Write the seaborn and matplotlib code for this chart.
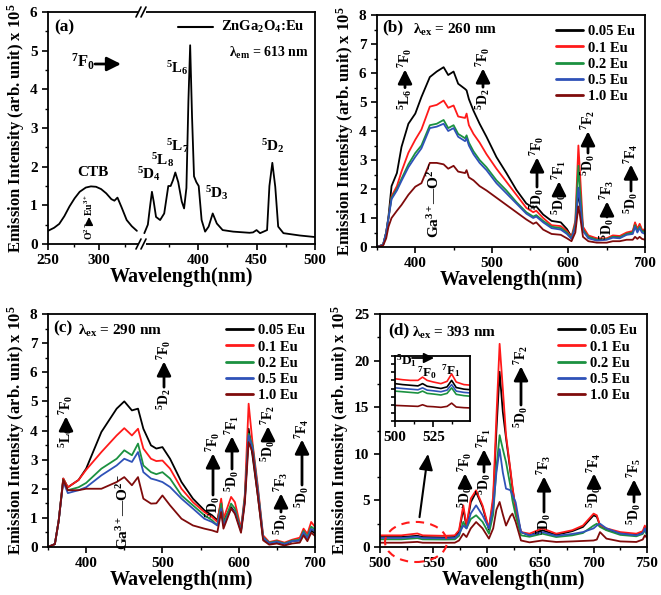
import numpy as np
import pandas as pd
import matplotlib
matplotlib.use("Agg")
import matplotlib.pyplot as plt
import seaborn as sns
from matplotlib.lines import Line2D
from matplotlib.patches import Ellipse
from matplotlib.ticker import MultipleLocator, NullFormatter

# ---------------- data ----------------
series = ["0.05 Eu", "0.1 Eu", "0.2 Eu", "0.5 Eu", "1.0 Eu"]
colors = ["#000000", "#ff1a1a", "#1b9140", "#2f52b8", "#7f0b0b"]

# (a) excitation spectrum (broken axis)
a_left_wl = [250, 256, 261, 266, 271, 276, 281, 287, 292, 297, 302, 307, 312, 315, 318, 322, 327, 332, 337]
a_left_I = [0.34, 0.42, 0.52, 0.72, 0.97, 1.18, 1.35, 1.46, 1.49, 1.48, 1.42, 1.31, 1.16, 1.12, 1.2, 0.95, 0.62, 0.46, 0.34]
a_right_wl = [354, 357, 359, 360.5, 362, 364, 367.5, 371, 374.5, 376.5, 378.5, 380.5, 383, 386, 388, 390, 391.7, 393.2, 394.8, 396.5, 398.5, 400.5,
              403, 406, 409, 412.5, 416, 421, 430, 444, 447, 450, 453, 459, 461, 463.5, 466, 468.5, 473, 487, 500]
a_right_I = [0.28, 0.5, 1.0, 1.35, 1.1, 0.7, 0.62, 0.79, 1.5, 1.5, 1.65, 1.85, 1.6, 1.1, 0.92, 1.45, 3.7, 5.14, 3.3, 1.75, 1.6, 1.5,
             0.62, 0.32, 0.45, 0.79, 0.53, 0.36, 0.32, 0.29, 0.3, 0.36, 0.28, 0.36, 1.5, 2.1, 1.48, 0.45, 0.28, 0.22, 0.18]

# (b) emission, lambda_ex = 260 nm
b_wl = [350, 358, 362, 365, 369, 376, 382, 391, 400, 408, 419, 428, 437, 443, 450, 456, 465, 467, 470, 476, 484, 493, 506, 519, 532,
        545, 554, 558, 567, 578, 590, 598, 604, 609, 613, 615, 619, 626, 637, 650, 658, 667, 676, 684, 687, 690, 693, 696, 700]
b_005 = [0, 0.08, 0.5, 1.05, 2.1, 2.55, 3.45, 4.25, 4.6, 5.17, 5.86, 6.05, 6.2, 5.93, 6.05, 5.63, 5.45, 5.4, 5.1, 4.7, 4.25, 3.8, 3.1, 2.55, 1.97,
         1.5, 1.35, 1.4, 1.12, 0.9, 0.85, 0.62, 0.35, 0.7, 1.9, 1.5, 0.66, 0.35, 0.28, 0.28, 0.35, 0.35, 0.45, 0.5, 0.8, 0.6, 0.75, 0.55, 0.55]
b_01 = [0, 0.08, 0.5, 1.0, 1.75, 2.1, 2.6, 3.25, 3.7, 4.05, 4.84, 4.9, 5.05, 4.8, 4.88, 4.5, 4.45, 4.6, 4.2, 3.9, 3.6, 3.2, 2.7, 2.25, 1.8,
        1.35, 1.2, 1.25, 1.0, 0.75, 0.72, 0.55, 0.35, 0.9, 3.5, 2.6, 0.7, 0.4, 0.3, 0.3, 0.4, 0.38, 0.5, 0.55, 0.85, 0.62, 0.8, 0.6, 0.6]
b_02 = [0, 0.08, 0.5, 1.0, 1.7, 2.0, 2.35, 2.85, 3.24, 3.5, 4.2, 4.25, 4.38, 4.1, 4.2, 3.9, 3.75, 3.85, 3.6, 3.3, 3.0, 2.75, 2.3, 1.95, 1.55,
        1.2, 1.05, 1.1, 0.9, 0.7, 0.65, 0.5, 0.3, 0.8, 2.8, 2.0, 0.6, 0.35, 0.25, 0.27, 0.35, 0.33, 0.45, 0.5, 0.75, 0.55, 0.7, 0.55, 0.5]
b_05 = [0, 0.08, 0.5, 1.0, 1.65, 1.95, 2.28, 2.75, 3.11, 3.4, 4.1, 4.15, 4.25, 4.0, 4.1, 3.8, 3.65, 3.75, 3.5, 3.2, 2.9, 2.65, 2.2, 1.85, 1.5,
        1.15, 1.0, 1.05, 0.85, 0.65, 0.6, 0.45, 0.28, 0.7, 2.05, 1.6, 0.55, 0.3, 0.22, 0.25, 0.32, 0.3, 0.42, 0.45, 0.7, 0.5, 0.65, 0.5, 0.45]
b_10 = [0, 0.05, 0.3, 0.7, 1.0, 1.25, 1.45, 1.8, 2.08, 2.2, 2.9, 2.9, 2.85, 2.7, 2.8, 2.6, 2.55, 2.65, 2.4, 2.3, 2.1, 1.95, 1.7, 1.45, 1.2,
        0.95, 0.8, 0.85, 0.6, 0.45, 0.42, 0.3, 0.2, 0.5, 1.4, 1.1, 0.35, 0.2, 0.15, 0.15, 0.2, 0.2, 0.25, 0.25, 0.35, 0.28, 0.35, 0.28, 0.25]

# (c) emission, lambda_ex = 290 nm
c_wl = [350, 359, 364, 370, 376, 390, 400, 420, 440, 450, 460, 468, 475, 485, 492, 500, 510, 525, 540, 555,
        565, 572, 577, 580, 590, 595, 603, 608, 613, 618, 625, 632, 640, 650, 660, 670, 680, 685, 690, 695, 700]
c_005 = [0, 0.1, 0.9, 2.35, 2.05, 2.3, 2.69, 3.95, 4.75, 5.0, 4.69, 4.75, 4.06, 3.49, 3.38, 3.43, 3.03, 2.23, 1.66, 1.26,
         1.09, 0.92, 1.55, 0.9, 1.37, 1.2, 0.57, 1.6, 4.06, 3.15, 1.77, 0.29, 0.11, 0.17, 0.08, 0.2, 0.23, 0.5, 0.29, 0.57, 0.46]
c_01 = [0, 0.1, 0.9, 2.35, 2.05, 2.3, 2.65, 3.26, 3.83, 4.08, 3.83, 4.06, 3.38, 3.03, 2.95, 2.97, 2.69, 2.0, 1.54, 1.2,
        1.03, 0.86, 1.66, 0.97, 1.72, 1.54, 0.63, 1.8, 4.92, 3.6, 2.1, 0.4, 0.17, 0.23, 0.15, 0.25, 0.32, 0.63, 0.45, 0.86, 0.69]
c_02 = [0, 0.1, 0.9, 2.3, 1.95, 2.05, 2.2, 2.69, 3.03, 3.32, 3.15, 3.55, 2.8, 2.57, 2.5, 2.57, 2.35, 1.77, 1.43, 1.09,
        0.92, 0.74, 1.49, 0.8, 1.49, 1.32, 0.57, 1.7, 3.89, 3.49, 2.0, 0.34, 0.15, 0.2, 0.12, 0.22, 0.25, 0.55, 0.35, 0.7, 0.6]
c_05 = [0, 0.1, 0.9, 2.25, 1.85, 1.95, 2.05, 2.46, 2.8, 3.03, 2.92, 3.26, 2.57, 2.35, 2.3, 2.23, 2.06, 1.66, 1.32, 0.97,
        0.86, 0.74, 1.32, 0.74, 1.32, 1.2, 0.54, 1.6, 3.83, 3.4, 1.95, 0.32, 0.13, 0.18, 0.1, 0.2, 0.22, 0.5, 0.3, 0.62, 0.55]
c_10 = [0, 0.1, 0.9, 2.3, 1.95, 1.95, 2.0, 2.0, 2.23, 2.4, 2.12, 2.4, 1.66, 1.49, 1.5, 1.77, 1.43, 0.97, 0.74, 0.63,
        0.57, 0.51, 1.2, 0.63, 1.32, 1.14, 0.49, 1.5, 3.6, 3.26, 1.77, 0.23, 0.08, 0.12, 0.05, 0.12, 0.15, 0.4, 0.2, 0.49, 0.38]

# (d) emission, lambda_ex = 393 nm
d_wl = [500, 520, 535, 540, 560, 570, 574, 578, 581, 585, 590, 596, 602, 606, 609, 612, 615, 618, 622, 624,
        627, 632, 640, 652, 665, 680, 690, 700, 703, 706, 712, 725, 740, 746, 748, 750]
d_005 = [1.07, 1.07, 1.2, 1.07, 1.03, 1.07, 1.6, 4.1, 2.15, 4.8, 5.9, 4.3, 1.85, 5.0, 12.5, 18.8, 14.5, 11.7, 8.2, 6.3,
         4.1, 1.6, 1.25, 1.8, 1.3, 1.7, 2.15, 3.4, 3.25, 2.3, 1.85, 1.45, 1.3, 1.55, 2.15, 1.45]
d_01 = [1.25, 1.25, 1.45, 1.25, 1.2, 1.25, 1.8, 4.47, 2.3, 5.2, 6.08, 4.47, 2.0, 5.5, 14.0, 21.8, 17.0, 12.0, 8.4, 6.5,
        4.1, 1.6, 1.43, 2.0, 1.43, 1.8, 2.3, 3.58, 3.4, 2.3, 2.0, 1.6, 1.43, 1.7, 2.3, 1.6]
d_02 = [0.82, 0.82, 0.95, 0.82, 0.8, 0.82, 1.2, 2.7, 2.0, 3.0, 3.4, 2.7, 1.43, 3.5, 8.5, 12.0, 10.5, 9.1, 6.6, 5.0,
        3.4, 1.25, 1.1, 1.43, 1.07, 1.25, 1.5, 2.3, 2.5, 2.15, 1.8, 1.3, 1.15, 1.4, 1.8, 1.25]
d_05 = [0.97, 0.97, 1.1, 0.97, 0.93, 0.97, 1.4, 2.3, 2.0, 3.6, 4.47, 3.4, 2.0, 4.2, 8.0, 10.5, 8.0, 6.26, 6.1, 5.6,
        4.8, 1.6, 1.25, 1.6, 1.2, 1.4, 1.6, 2.0, 2.3, 2.5, 2.0, 1.45, 1.25, 1.5, 2.0, 1.35]
d_10 = [0.46, 0.46, 0.55, 0.46, 0.45, 0.46, 0.7, 1.43, 1.07, 2.0, 2.68, 2.0, 0.9, 2.0, 4.0, 4.83, 3.5, 2.3, 3.3, 3.58,
        2.7, 0.7, 0.5, 0.7, 0.54, 0.6, 0.65, 0.7, 0.8, 1.6, 0.9, 0.6, 0.54, 0.8, 1.25, 0.97]

# (d) inset, 500-550 nm
ins_wl = [500, 505, 510, 515, 518, 521, 525, 530, 534, 537, 540, 545, 550]
ins_005 = [1.15, 1.12, 1.1, 1.08, 1.15, 1.07, 1.04, 1.0, 1.05, 1.25, 1.03, 0.98, 0.96]
ins_01 = [1.3, 1.27, 1.25, 1.25, 1.35, 1.25, 1.2, 1.15, 1.22, 1.45, 1.2, 1.12, 1.1]
ins_02 = [0.92, 0.9, 0.88, 0.86, 0.92, 0.85, 0.83, 0.8, 0.85, 1.02, 0.82, 0.78, 0.76]
ins_05 = [1.02, 1.0, 0.98, 0.96, 1.02, 0.95, 0.93, 0.9, 0.95, 1.12, 0.92, 0.88, 0.86]
ins_10 = [0.48, 0.47, 0.46, 0.45, 0.5, 0.45, 0.44, 0.42, 0.45, 0.55, 0.43, 0.41, 0.4]


def long_df(wl, cols):
    frames = [pd.DataFrame({"wl": wl, "I": v, "s": name}) for name, v in zip(series, cols)]
    return pd.concat(frames, ignore_index=True)


df_b = long_df(b_wl, [b_005, b_01, b_02, b_05, b_10])
df_c = long_df(c_wl, [c_005, c_01, c_02, c_05, c_10])
df_d = long_df(d_wl, [d_005, d_01, d_02, d_05, d_10])
df_i = long_df(ins_wl, [ins_005, ins_01, ins_02, ins_05, ins_10])

# ---------------- style ----------------
sns.set_theme(style="ticks")
plt.rcParams["font.family"] = ["Liberation Serif", "DejaVu Serif"]
plt.rcParams.update({
    "font.weight": "bold",
    "axes.labelweight": "bold",
    "mathtext.fontset": "custom",
    "mathtext.rm": "Liberation Serif:bold",
    "mathtext.it": "Liberation Serif:bold:italic",
    "mathtext.bf": "Liberation Serif:bold",
    "axes.edgecolor": "black",
    "axes.linewidth": 1.3,
    "text.color": "black",
    "axes.labelcolor": "black",
    "xtick.color": "black",
    "ytick.color": "black",
})

W, H = 661, 595
fig = plt.figure(figsize=(W / 100, H / 100), dpi=100)
fig.patch.set_facecolor("white")


def add_ax(l, t, r, b):
    return fig.add_axes([l / W, 1 - b / H, (r - l) / W, (b - t) / H])


def style_ax(ax):
    ax.tick_params(which="major", direction="out", length=4, width=1.2, labelsize=11)
    ax.tick_params(which="minor", direction="out", length=2.5, width=1.0)
    for lab in ax.get_xticklabels() + ax.get_yticklabels():
        lab.set_fontweight("bold")
    for sp in ax.spines.values():
        sp.set_linewidth(1.3)
        sp.set_color("black")


pal = dict(zip(series, colors))
YLAB = r"Emission Intensity (arb. unit) x 10$^5$"
XLAB = "Wavelength(nm)"

# ---- panel (a) ----
axa1 = add_ax(48, 12, 142, 244)
axa2 = add_ax(142, 12, 315, 244)
sns.lineplot(x=a_left_wl, y=a_left_I, ax=axa1, color="black", lw=1.3)
sns.lineplot(x=a_right_wl, y=a_right_I, ax=axa2, color="black", lw=1.3)
axa1.set_xlim(250, 342)
axa2.set_xlim(352, 500)
for ax in (axa1, axa2):
    ax.set_ylim(0, 6)
    ax.set_facecolor("white")
axa1.xaxis.set_major_locator(MultipleLocator(50))
axa1.xaxis.set_minor_locator(MultipleLocator(25))
axa2.xaxis.set_major_locator(MultipleLocator(50))
axa2.xaxis.set_minor_locator(MultipleLocator(25))
axa1.yaxis.set_major_locator(MultipleLocator(1))
axa1.yaxis.set_minor_locator(MultipleLocator(0.5))
axa1.spines["right"].set_visible(False)
axa2.spines["left"].set_visible(False)
axa2.tick_params(axis="y", which="both", left=False, labelleft=False)
axa2.set_xticks([400, 450, 500])
axa1.set_ylabel(YLAB, fontsize=12, labelpad=2)
axa1.set_xlabel("")
axa2.set_xlabel("")
style_ax(axa1)
style_ax(axa2)

# ---- panel (b) ----
axb = add_ax(377, 15, 645, 247)
sns.lineplot(data=df_b, x="wl", y="I", hue="s", hue_order=series, palette=pal,
             ax=axb, legend=False, lw=1.3, estimator=None, sort=False)
axb.set_xlim(350, 700)
axb.set_ylim(0, 8)

# ---- panel (c) ----
axc = add_ax(48, 314, 315, 547)
sns.lineplot(data=df_c, x="wl", y="I", hue="s", hue_order=series, palette=pal,
             ax=axc, legend=False, lw=1.3, estimator=None, sort=False)
axc.set_xlim(350, 700)
axc.set_ylim(0, 8)

# ---- panel (d) ----
axd = add_ax(380, 314, 647, 547)
sns.lineplot(data=df_d, x="wl", y="I", hue="s", hue_order=series, palette=pal,
             ax=axd, legend=False, lw=1.3, estimator=None, sort=False)
axd.set_xlim(500, 750)
axd.set_ylim(0, 25)

for ax in (axb, axc):
    ax.xaxis.set_major_locator(MultipleLocator(100))
    ax.xaxis.set_minor_locator(MultipleLocator(50))
    ax.yaxis.set_major_locator(MultipleLocator(1))
    ax.yaxis.set_minor_locator(MultipleLocator(0.5))
axd.xaxis.set_major_locator(MultipleLocator(50))
axd.xaxis.set_minor_locator(MultipleLocator(25))
axd.yaxis.set_major_locator(MultipleLocator(5))
axd.yaxis.set_minor_locator(MultipleLocator(2.5))

for ax in (axb, axc, axd):
    ax.set_xlabel(XLAB, fontsize=14.5, labelpad=0)
    ax.set_ylabel(YLAB, fontsize=12, labelpad=2)
    style_ax(ax)
    handles = [Line2D([], [], color=c, lw=2) for c in colors]
    ax.legend(handles, series, loc="upper right", frameon=False,
              prop=dict(weight="bold", size=10.5), handlelength=1.9,
              handletextpad=0.3, labelspacing=0.2, borderaxespad=0.3)

# ellipse + arrow in (d)
axd.add_patch(Ellipse((533.7, 0.54), width=58, height=4.3, fill=False, ls=(0, (4, 3)),
                      lw=1.5, edgecolor="#ff1a1a", clip_on=False, zorder=5))
axd.annotate("", xy=(545, 10.0), xytext=(537, 3.2),
             arrowprops=dict(arrowstyle="-|>,head_width=0.35,head_length=0.8", lw=1.5, color="black",
                             shrinkA=0, shrinkB=0))

# inset in (d)
axi = add_ax(395, 356, 470, 421)
sns.lineplot(data=df_i, x="wl", y="I", hue="s", hue_order=series, palette=pal,
             ax=axi, legend=False, lw=1.2, estimator=None, sort=False)
axi.set_xlim(500, 549)
axi.set_ylim(0, 2.0)
axi.set_xticks([500, 525])
axi.xaxis.set_minor_locator(MultipleLocator(12.5))
axi.yaxis.set_major_locator(MultipleLocator(0.25))
axi.yaxis.set_major_formatter(NullFormatter())
axi.set_xlabel("")
axi.set_ylabel("")
style_ax(axi)
axi.tick_params(axis="y", length=3)
axi.tick_params(axis="x", labelsize=11, pad=3)

# ---------------- overlay for annotations (pixel coords) ----------------
ov = fig.add_axes([0, 0, 1, 1], zorder=20)
ov.set_xlim(0, W)
ov.set_ylim(H, 0)
ov.axis("off")
ov.patch.set_alpha(0)


def T(x, y, s, fs=11, **kw):
    kw.setdefault("ha", "left")
    kw.setdefault("va", "center")
    return ov.text(x, y, s, fontsize=fs, fontweight="bold", **kw)


def arrow(x0, y0, x1, y1, lw=2.2, hw=0.35, hl=0.7):
    ov.annotate("", xy=(x1, y1), xytext=(x0, y0),
                arrowprops=dict(arrowstyle=f"-|>,head_width={hw},head_length={hl}", lw=lw,
                                color="black", shrinkA=0, shrinkB=0))


pending = []


def trans(x, ybot, ytop, lo, hi, fs=10, lw=2.0):
    t1 = ov.text(x, ybot, lo, rotation=90, ha="center", va="bottom", fontsize=fs, fontweight="bold")
    t2 = ov.text(x, ytop, hi, rotation=90, ha="center", va="top", fontsize=fs, fontweight="bold")
    pending.append((x, t1, t2, lw))


# axis break marks for (a)
for yb in (12, 244):
    ov.plot([139, 146], [yb, yb], color="white", lw=3, solid_capstyle="butt")
    ov.plot([136, 141], [yb + 5, yb - 5], color="black", lw=1.2)
    ov.plot([141, 146], [yb + 5, yb - 5], color="black", lw=1.2)

# (a) texts
T(181, 277, XLAB, fs=14.5, ha="center")
T(54, 27, "(a)", fs=12.5)
ov.plot([178, 213], [27, 27], color="black", lw=1.5)
T(221, 27, r"ZnGa$_2$O$_4$:Eu", fs=10.5)
T(229, 53, r"λ$_{\mathrm{em}}$ = 613 nm", fs=10)
T(71, 62, r"$^7$F$_0$", fs=12)
arrow(95, 64, 121, 64, lw=2.0)
T(93, 172, "CTB", fs=11, ha="center")
trans(89, 240, 194, r"O$^{2-}$", r"Eu$^{3+}$", fs=7, lw=1.1)
T(137, 174, r"$^5$D$_4$", fs=11)
T(151, 160, r"$^5$L$_8$", fs=11)
T(166, 146, r"$^5$L$_7$", fs=11)
T(166, 68, r"$^5$L$_6$", fs=10.5)
T(205, 193, r"$^5$D$_3$", fs=11)
T(261, 146, r"$^5$D$_2$", fs=11)

# (b) texts
T(382, 27, "(b)", fs=12.5)
T(413, 30, r"λ$_{\mathrm{ex}}$ = 260 nm", fs=11)
trans(405, 110, 48, r"$^5$L$_6$", r"$^7$F$_0$")
trans(483, 110, 47, r"$^5$D$_2$", r"$^7$F$_0$")
T(434, 200, r"Ga$^{3+}$—O$^{2-}$", fs=11, rotation=90, ha="center", va="center")
trans(537, 210, 136, r"$^5$D$_0$", r"$^7$F$_0$")
trans(559, 215, 160, r"$^5$D$_0$", r"$^7$F$_1$")
trans(588, 176, 110, r"$^5$D$_0$", r"$^7$F$_2$")
trans(607, 240, 180, r"$^5$D$_0$", r"$^7$F$_3$")
trans(631, 214, 143, r"$^5$D$_0$", r"$^7$F$_4$")

# (c) texts
T(53, 328, "(c)", fs=12.5)
T(78, 331, r"λ$_{\mathrm{ex}}$ = 290 nm", fs=11)
trans(66, 448, 395, r"$^5$L$_6$", r"$^7$F$_0$")
trans(164, 410, 340, r"$^5$D$_2$", r"$^7$F$_0$")
T(123, 512, r"Ga$^{3+}$—O$^{2-}$", fs=11, rotation=90, ha="center", va="center")
trans(213, 518, 432, r"$^5$D$_0$", r"$^7$F$_0$")
trans(232, 492, 415, r"$^5$D$_0$", r"$^7$F$_1$")
trans(268, 462, 405, r"$^5$D$_0$", r"$^7$F$_2$")
trans(281, 535, 472, r"$^5$D$_0$", r"$^7$F$_3$")
trans(302, 508, 418, r"$^5$D$_0$", r"$^7$F$_4$")

# (d) texts
T(388, 330, "(d)", fs=12.5)
T(412, 333, r"λ$_{\mathrm{ex}}$ = 393 nm", fs=11)
trans(465, 508, 452, r"$^5$D$_0$", r"$^7$F$_0$")
trans(484, 495, 428, r"$^5$D$_0$", r"$^7$F$_1$")
trans(521, 428, 345, r"$^5$D$_0$", r"$^7$F$_2$")
trans(544, 535, 455, r"$^5$D$_0$", r"$^7$F$_3$")
trans(594, 508, 452, r"$^5$D$_0$", r"$^7$F$_4$")
trans(634, 525, 458, r"$^5$D$_0$", r"$^7$F$_5$")
# inset labels
T(396, 361, r"$^5$D$_1$", fs=9.5)
arrow(412, 358, 434, 358, lw=1.3, hw=0.25, hl=0.5)
T(417, 373, r"$^7$F$_0$", fs=9.5)
T(441, 371, r"$^7$F$_1$", fs=9.5)

# arrows for transitions, sized from the rendered text
fig.canvas.draw()
rend = fig.canvas.get_renderer()
inv = ov.transData.inverted()
for x, t1, t2, lw in pending:
    e1 = t1.get_window_extent(rend)
    e2 = t2.get_window_extent(rend)
    y_from = inv.transform((0, e1.y1))[1] - 1
    y_to = inv.transform((0, e2.y0))[1] + 1
    arrow(x, y_from, x, y_to, lw=lw, hw=0.35 if lw > 1.5 else 0.2, hl=0.7 if lw > 1.5 else 0.4)

fig.savefig("out.png", dpi=100, facecolor="white")
